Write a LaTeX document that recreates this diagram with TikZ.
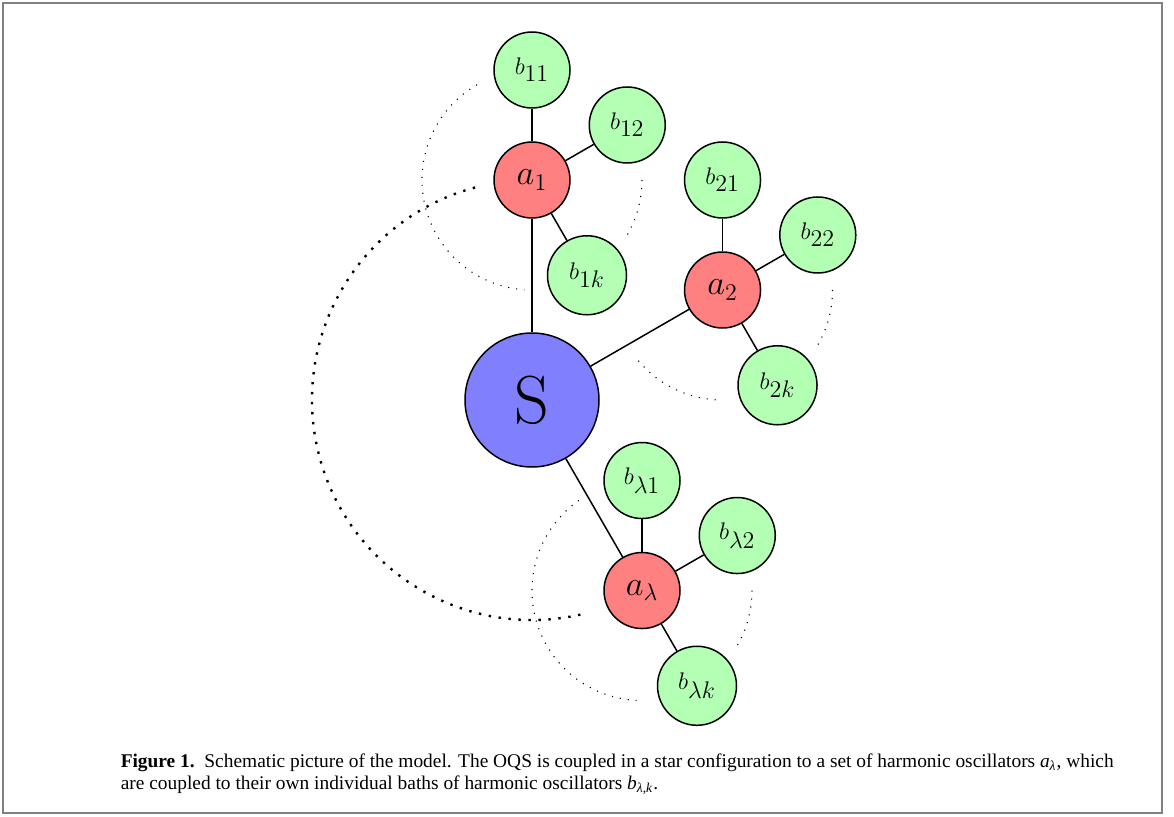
\documentclass[tikz,border=0pt]{standalone}
\usepackage{fontspec}
\usetikzlibrary{calc}
\newfontfamily\capfont{Liberation Serif}
\DeclareMathSizes{12.5}{12.5}{11.5}{9}
\DeclareMathSizes{17}{17}{12.5}{9}
\definecolor{bathgreen}{HTML}{B3FFB3}
\definecolor{oscred}{HTML}{FF8080}
\definecolor{sysblue}{HTML}{8080FF}
\begin{document}
\begin{tikzpicture}[
  every node/.style={circle, draw=black, line width=0.75pt, inner sep=0pt},
  sysnode/.style={fill=sysblue, minimum size=67pt, font=\fontsize{34}{40}\selectfont},
  oscnode/.style={fill=oscred, minimum size=38pt, font=\fontsize{17}{20}\selectfont},
  bathnode/.style={fill=bathgreen, minimum size=38pt, font=\fontsize{12.5}{15}\selectfont},
  bathk/.style={bathnode, minimum size=39.5pt},
  link/.style={line width=0.75pt},
  smalldots/.style={line width=0.55pt, dash pattern=on 0.55pt off 3.45pt},
  bigdots/.style={line width=1.2pt, dash pattern=on 1.2pt off 3.8pt},
  captext/.style={draw=none, rectangle, inner sep=0pt, anchor=base west, font=\capfont\fontsize{9.7}{11.5}\selectfont}
]
\useasboundingbox (0,0) rectangle (587pt,408pt);
\draw[draw=black!50, line width=1pt] (1.5pt,1.5pt) rectangle (581pt,406.5pt);

% system
\node[sysnode] (S) at (266pt,208pt) {S};

% oscillators
\node[oscnode] (a1) at ($(S)+(90:110pt)$) {$a_1$};
\node[oscnode] (a2) at ($(S)+(30:110pt)$) {$a_2$};
\node[oscnode] (al) at ($(S)+(-60:110pt)$) {$a_\lambda$};

% baths
\node[bathnode] (b11) at ($(a1)+(90:55pt)$) {$b_{11}$};
\node[bathnode] (b12) at ($(a1)+(30:55pt)$) {$b_{12}$};
\node[bathk]    (b1k) at ($(a1)+(-60:55pt)$) {$b_{1k}$};
\node[bathnode] (b21) at ($(a2)+(90:55pt)$) {$b_{21}$};
\node[bathnode] (b22) at ($(a2)+(30:55pt)$) {$b_{22}$};
\node[bathk]    (b2k) at ($(a2)+(-60:55pt)$) {$b_{2k}$};
\node[bathnode] (bl1) at ($(al)+(90:55pt)$) {$b_{\lambda 1}$};
\node[bathnode] (bl2) at ($(al)+(30:55pt)$) {$b_{\lambda 2}$};
\node[bathk]    (blk) at ($(al)+(-60:55pt)$) {$b_{\lambda k}$};

% links
\draw[link] (S) -- (a1);
\draw[link] (S) -- (a2);
\draw[link] (S) -- (al);
\draw[link] (a1) -- (b11);
\draw[link] (a1) -- (b12);
\draw[link] (a1) -- (b1k);
\draw[link] (a2) -- (b21);
\draw[link] (a2) -- (b22);
\draw[link] (a2) -- (b2k);
\draw[link] (al) -- (bl1);
\draw[link] (al) -- (bl2);
\draw[link] (al) -- (blk);

% dotted arcs
\draw[smalldots] ($(a1)+(120:55pt)$) arc[start angle=120, end angle=266, radius=55pt];
\draw[smalldots] ($(a1)+(0:55pt)$) arc[start angle=0, end angle=-30, radius=55pt];
\draw[smalldots] ($(a2)+(220:55pt)$) arc[start angle=220, end angle=269, radius=55pt];
\draw[smalldots] ($(a2)+(0:55pt)$) arc[start angle=0, end angle=-30, radius=55pt];
\draw[smalldots] ($(al)+(125:55pt)$) arc[start angle=125, end angle=270, radius=55pt];
\draw[smalldots] ($(al)+(0:55pt)$) arc[start angle=0, end angle=-30, radius=55pt];
\draw[bigdots] ($(S)+(105:110pt)$) arc[start angle=105, end angle=283, radius=110pt];

% caption
\node[captext] (cap1) at (60pt,24.5pt) {\textbf{Figure 1.}\enspace Schematic picture of the model. The OQS is coupled in a star configuration to a set of harmonic oscillators \textit{a}\textsubscript{\textit{λ}}, which};
\node[captext] (cap2) at (60pt,13.5pt) {are coupled to their own individual baths of harmonic oscillators \textit{b}\textsubscript{\textit{λ},\textit{k}}.};
\end{tikzpicture}
\end{document}
